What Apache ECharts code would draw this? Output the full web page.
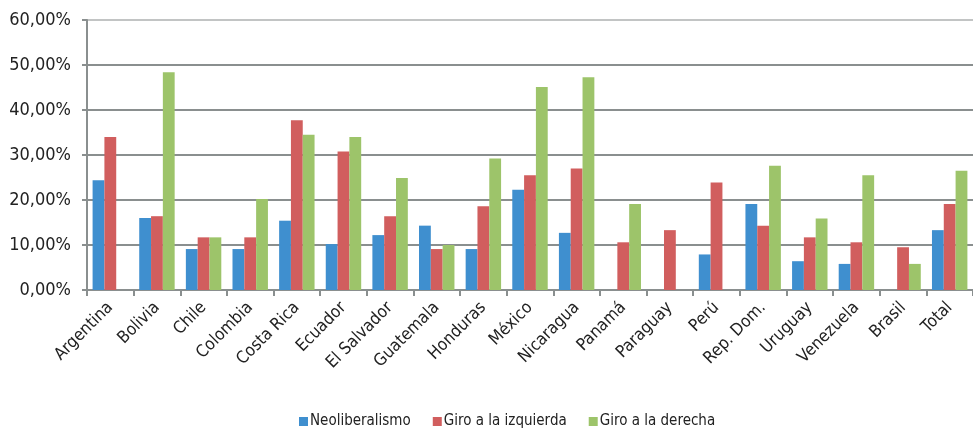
<!DOCTYPE html>
<html>
<head>
<meta charset="utf-8">
<script src="https://cdn.jsdelivr.net/npm/echarts@6/dist/echarts.min.js"></script>
<style>
  html, body { margin: 0; padding: 0; background: #fff; }
  #chart { width: 973px; height: 428px; }
</style>
</head>
<body>
<div id="chart"></div>
<script>
// datos por país (porcentajes)
var countries = ['Argentina', 'Bolivia', 'Chile', 'Colombia', 'Costa Rica', 'Ecuador', 'El Salvador',
  'Guatemala', 'Honduras', 'México', 'Nicaragua', 'Panamá', 'Paraguay', 'Perú', 'Rep. Dom.',
  'Uruguay', 'Venezuela', 'Brasil', 'Total'];
var neoliberalismo = [24.4, 16.0, 9.1, 9.1, 15.4, 10.2, 12.2, 14.3, 9.1, 22.3, 12.7, null, null, 7.9, 19.1, 6.4, 5.8, null, 13.3];
var giroIzquierda = [34.0, 16.4, 11.7, 11.7, 37.7, 30.8, 16.4, 9.1, 18.6, 25.5, 27.0, 10.6, 13.3, 23.9, 14.3, 11.7, 10.6, 9.5, 19.1];
var giroDerecha = [null, 48.4, 11.7, 20.2, 34.5, 34.0, 24.9, 10.0, 29.2, 45.1, 47.3, 19.1, null, null, 27.6, 15.9, 25.5, 5.8, 26.5];
var seriesNames = ['Neoliberalismo', 'Giro a la izquierda', 'Giro a la derecha'];

var font = "'Liberation Sans Narrow', 'DejaVu Sans Condensed', sans-serif";
var gridGray = '#8a8f8f';
var chart = echarts.init(document.getElementById('chart'));

function bar(name, data, color) {
  return {
    name: name,
    type: 'bar',
    data: data,
    barGap: '0%',
    barCategoryGap: '24%',
    itemStyle: { color: color },
    emphasis: { disabled: true }
  };
}

var option = {
  animation: false,
  grid: { left: 87, right: 0, top: 20, bottom: 138 },
  legend: {
    top: 409,
    left: 294,
    itemWidth: 9,
    itemHeight: 9,
    itemGap: 22,
    icon: 'rect',
    textStyle: { fontFamily: font, fontSize: 15, color: '#222', padding: [0, 0, 0, -3] },
    data: seriesNames
  },
  xAxis: {
    type: 'category',
    data: countries,
    axisLine: { lineStyle: { color: gridGray, width: 2 } },
    axisTick: { show: true, length: 6, lineStyle: { color: gridGray, width: 2 } },
    axisLabel: {
      rotate: 45,
      interval: 0,
      margin: 15,
      fontFamily: font,
      fontSize: 17,
      color: '#222'
    }
  },
  yAxis: {
    type: 'value',
    min: 0,
    max: 60,
    interval: 10,
    axisLine: { show: true, lineStyle: { color: gridGray, width: 2 } },
    axisTick: { show: true, length: 5, lineStyle: { color: gridGray, width: 2 } },
    splitLine: {
      lineStyle: {
        color: [gridGray, gridGray, gridGray, gridGray, gridGray, gridGray, '#c2c4c4'],
        width: 2
      }
    },
    axisLabel: {
      margin: 16,
      fontFamily: font,
      fontSize: 18,
      color: '#222',
      formatter: function (v) { return v.toFixed(2).replace('.', ',') + '%'; }
    }
  },
  series: [
    bar(seriesNames[0], neoliberalismo, '#3f8fcf'),
    bar(seriesNames[1], giroIzquierda, '#d15e5e'),
    bar(seriesNames[2], giroDerecha, '#9dc46a')
  ]
};
chart.setOption(option);
</script>
</body>
</html>
